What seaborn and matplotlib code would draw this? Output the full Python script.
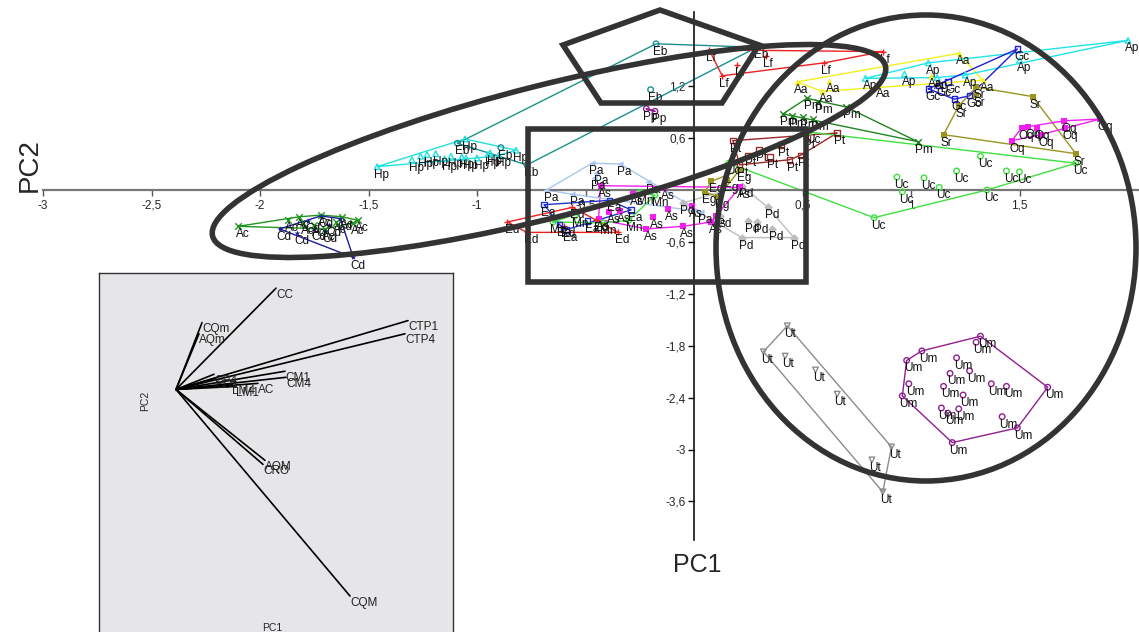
#!/usr/bin/env python3
import matplotlib
matplotlib.use("Agg")
import matplotlib.pyplot as plt
import numpy as np
import seaborn as sns
from matplotlib.patches import Ellipse, Polygon, Rectangle
from matplotlib.ticker import FixedLocator, FuncFormatter

sns.set_theme(style="white")
plt.rcParams["font.family"] = ["Liberation Sans", "DejaVu Sans"]

# PCA scores (PC1, PC2) per group
Ac_pc1 = [-2.10, -1.87, -1.82, -1.72, -1.55, -1.57, -1.75, -1.65, -1.80, -1.62, -1.70]
Ac_pc2 = [-0.42, -0.35, -0.31, -0.29, -0.35, -0.38, -0.40, -0.37, -0.38, -0.31, -0.45]
Cd_pc1 = [-1.91, -1.57, -1.72, -1.63, -1.83, -1.75, -1.68, -1.78, -1.70]
Cd_pc2 = [-0.45, -0.78, -0.30, -0.33, -0.50, -0.45, -0.40, -0.36, -0.47]
Hp_pc1 = [-1.46, -1.30, -1.26, -1.23, -1.19, -1.12, -1.07, -1.055, -0.95, -0.82, -1.00, -0.90, -1.15, -1.05, -0.94]
Hp_pc2 = [0.27, 0.35, 0.39, 0.41, 0.42, 0.39, 0.38, 0.59, 0.41, 0.46, 0.37, 0.40, 0.36, 0.37, 0.43]
Eb_pc1 = [-0.175, -0.20, 0.29, -1.09, -0.89, -0.77]
Eb_pc2 = [1.69, 1.16, 1.65, 0.54, 0.49, 0.29]
Lf_pc1 = [0.07, 0.87, 0.13, 0.60, 0.33, 0.20]
Lf_pc2 = [1.62, 1.60, 1.32, 1.47, 1.55, 1.45]
Aa_pc1 = [0.475, 0.62, 0.59, 1.22, 1.33, 1.09, 0.85]
Aa_pc2 = [1.25, 1.26, 1.14, 1.58, 1.27, 1.32, 1.20]
Ap_pc1 = [0.79, 0.97, 1.08, 1.12, 2.00, 1.50, 1.25]
Ap_pc2 = [1.29, 1.34, 1.47, 1.30, 1.73, 1.50, 1.33]
Gc_pc1 = [1.49, 1.08, 1.20, 1.27, 1.17, 1.13]
Gc_pc2 = [1.63, 1.17, 1.05, 1.09, 1.25, 1.21]
Sr_pc1 = [1.30, 1.56, 1.15, 1.76, 1.22, 1.30]
Sr_pc2 = [1.19, 1.08, 0.64, 0.42, 0.97, 1.10]
Oq_pc1 = [1.465, 1.51, 1.54, 1.58, 1.705, 1.87, 1.60, 1.71]
Oq_pc2 = [0.57, 0.72, 0.73, 0.72, 0.80, 0.82, 0.64, 0.72]
Pm_pc1 = [0.52, 0.70, 0.41, 0.50, 1.03, 0.57, 0.55, 0.45]
Pm_pc2 = [1.06, 0.96, 0.88, 0.84, 0.56, 1.02, 0.82, 0.86]
Pt_pc1 = [0.18, 0.66, 0.52, 0.44, 0.21, 0.30, 0.40, 0.49, 0.25, 0.35]
Pt_pc2 = [0.57, 0.66, 0.61, 0.35, 0.29, 0.46, 0.52, 0.40, 0.40, 0.38]
Uc_pc1 = [0.16, 0.53, 0.83, 0.935, 1.06, 1.13, 0.96, 1.21, 1.32, 1.44, 1.50, 1.35, 1.76]
Uc_pc2 = [0.31, 0.67, -0.32, 0.15, 0.14, 0.03, -0.02, 0.22, 0.39, 0.22, 0.21, 0.00, 0.31]
Ut_pc1 = [0.43, 0.32, 0.42, 0.56, 0.66, 0.91, 0.82, 0.87]
Ut_pc2 = [-1.57, -1.87, -1.92, -2.08, -2.36, -2.97, -3.12, -3.49]
Um_pc1 = [1.32, 1.30, 1.05, 0.98, 0.99, 0.96, 1.21, 1.18, 1.27, 1.15, 1.24,
          1.37, 1.44, 1.63, 1.14, 1.17, 1.22, 1.42, 1.49, 1.19]
Um_pc2 = [-1.69, -1.76, -1.86, -1.97, -2.24, -2.38, -1.94, -2.12, -2.09, -2.27, -2.37,
          -2.24, -2.27, -2.28, -2.52, -2.58, -2.53, -2.62, -2.75, -2.92]
Pd_pc1 = [0.34, 0.25, 0.29, 0.36, 0.46, 0.22, 0.22, 0.12, -0.05]
Pd_pc2 = [-0.20, -0.36, -0.37, -0.45, -0.55, -0.55, 0.05, -0.30, -0.15]
As_pc1 = [-0.28, -0.14, 0.21, -0.01, -0.12, -0.05, -0.22, 0.08, -0.44, -0.39, -0.34, -0.19, -0.43, 0.10]
As_pc2 = [-0.05, 0.02, 0.03, -0.18, -0.22, -0.42, -0.45, -0.37, -0.34, -0.25, -0.24, -0.31, 0.05, -0.30]
Pa_pc1 = [-0.47, -0.34, -0.21, -0.68, -0.56, -0.46, 0.03, -0.45]
Pa_pc2 = [0.31, 0.30, 0.09, 0.00, -0.05, 0.14, -0.25, 0.20]
Ed_pc1 = [-0.86, -0.56, -0.77, -0.35, -0.45, -0.60]
Ed_pc2 = [-0.37, -0.20, -0.49, -0.49, -0.35, -0.42]
Ea_pc1 = [-0.69, -0.49, -0.59, -0.39, -0.29, -0.62]
Ea_pc2 = [-0.17, -0.36, -0.46, -0.12, -0.23, -0.40]
Mn_pc1 = [-0.65, -0.55, -0.25, -0.18, -0.30, -0.42]
Mn_pc2 = [-0.37, -0.30, -0.03, -0.06, -0.35, -0.38]
Eg_pc1 = [0.08, 0.05, 0.11, 0.21, 0.15]
Eg_pc2 = [0.10, -0.02, -0.08, 0.23, 0.12]
Pp_pc1 = [-0.22, -0.18]
Pp_pc2 = [0.94, 0.91]

# loadings shown in the inset (arbitrary units)
load_names = ["CC", "CQm", "AQm", "CTP1", "CTP4", "CM1", "CM4", "AC", "CD1", "CP4",
              "LM4", "LM1", "AQM", "CRO", "CQM"]
load_pc1 = [1.00, 0.26, 0.23, 2.32, 2.29, 1.09, 1.10, 0.82, 0.39, 0.38, 0.56, 0.60, 0.89, 0.87, 1.74]
load_pc2 = [1.00, 0.66, 0.55, 0.68, 0.55, 0.18, 0.12, 0.06, 0.11, 0.15, 0.05, 0.03, -0.70, -0.74, -2.04]

# name, scores, colour, marker, filled
groups = [
    ("Ac", Ac_pc1, Ac_pc2, "#1f961f", "x", False),
    ("Cd", Cd_pc1, Cd_pc2, "#1c1c9a", "*", True),
    ("Hp", Hp_pc1, Hp_pc2, "#20e0e0", "^", False),
    ("Eb", Eb_pc1, Eb_pc2, "#1b8f8f", "o", False),
    ("Lf", Lf_pc1, Lf_pc2, "#ee1f1f", "+", False),
    ("Aa", Aa_pc1, Aa_pc2, "#f2f01e", "^", True),
    ("Ap", Ap_pc1, Ap_pc2, "#20e4ec", "^", False),
    ("Gc", Gc_pc1, Gc_pc2, "#1f1fd6", "s", False),
    ("Sr", Sr_pc1, Sr_pc2, "#9a9420", "s", True),
    ("Oq", Oq_pc1, Oq_pc2, "#f21ef2", "s", True),
    ("Pm", Pm_pc1, Pm_pc2, "#1f861f", "x", False),
    ("Pt", Pt_pc1, Pt_pc2, "#9b2a2a", "s", False),
    ("Uc", Uc_pc1, Uc_pc2, "#3fe03f", "o", False),
    ("Ut", Ut_pc1, Ut_pc2, "#8c8c8c", "v", False),
    ("Um", Um_pc1, Um_pc2, "#8f1f8f", "o", False),
    ("Pd", Pd_pc1, Pd_pc2, "#bdbdbd", "D", True),
    ("As", As_pc1, As_pc2, "#f21ef2", "s", True),
    ("Pa", Pa_pc1, Pa_pc2, "#a9c6ee", "<", True),
    ("Ed", Ed_pc1, Ed_pc2, "#ee1f1f", "+", False),
    ("Ea", Ea_pc1, Ea_pc2, "#2233cc", "s", False),
    ("Mn", Mn_pc1, Mn_pc2, "#3fe03f", "o", False),
    ("Eg", Eg_pc1, Eg_pc2, "#9a9420", "s", True),
    ("Pp", Pp_pc1, Pp_pc2, "#8f1f8f", "o", False),
]


def convex_hull(xs, ys):
    pts = sorted(set(zip(xs, ys)))
    if len(pts) < 3:
        return pts

    def cross(o, a, b):
        return (a[0] - o[0]) * (b[1] - o[1]) - (a[1] - o[1]) * (b[0] - o[0])

    lower, upper = [], []
    for p in pts:
        while len(lower) >= 2 and cross(lower[-2], lower[-1], p) <= 0:
            lower.pop()
        lower.append(p)
    for p in reversed(pts):
        while len(upper) >= 2 and cross(upper[-2], upper[-1], p) <= 0:
            upper.pop()
        upper.append(p)
    return lower[:-1] + upper[:-1]


W, H = 1139, 632
fig = plt.figure(figsize=(W / 100, H / 100), dpi=100)
fig.patch.set_facecolor("white")

# main score plot, axes crossing at the origin
ax = fig.add_axes([0, 0, 1, 1])
ax.set_facecolor("white")
x0, y0, sx, sy = 694, 190, 217.0, 86.5   # pixel of origin, pixels per unit
ax.set_xlim(-x0 / sx, (W - x0) / sx)
ax.set_ylim((y0 - H) / sy, y0 / sy)

for name, xs, ys, col, mk, filled in groups:
    hull = convex_hull(xs, ys)
    hx = [p[0] for p in hull] + [hull[0][0]]
    hy = [p[1] for p in hull] + [hull[0][1]]
    ax.plot(hx, hy, color=col, lw=1.0, zorder=2)
    if mk in ("x", "+"):
        sns.scatterplot(x=xs, y=ys, color=col, marker=mk, s=22, linewidth=1.0, ax=ax, zorder=3)
    elif filled:
        sns.scatterplot(x=xs, y=ys, color=col, marker=mk, s=20, linewidth=0, ax=ax, zorder=3)
    else:
        sns.scatterplot(x=xs, y=ys, marker=mk, s=16, facecolor="none", edgecolor=col,
                        linewidth=1.0, ax=ax, zorder=3)
    for px, py in zip(xs, ys):
        ax.annotate(name, (px, py), xytext=(-2, -1.5), textcoords="offset points",
                    ha="left", va="top", fontsize=8.5, color="#111111", zorder=4)

for side in ["top", "right"]:
    ax.spines[side].set_visible(False)
ax.spines["left"].set_position(("data", 0))
ax.spines["bottom"].set_position(("data", 0))
ax.spines["left"].set_bounds(-4.05, 2.06)
ax.spines["bottom"].set_bounds(-3.0, (W - x0) / sx)
ax.spines["left"].set_color("#111111")
ax.spines["left"].set_linewidth(1.2)
ax.spines["bottom"].set_color("#777777")
ax.spines["bottom"].set_linewidth(1.6)

xt = [-3, -2.5, -2, -1.5, -1, -0.5, 0.5, 1, 1.5]
yt = [1.2, 0.6, -0.6, -1.2, -1.8, -2.4, -3, -3.6]
comma = FuncFormatter(lambda v, p: "{:g}".format(round(v, 2)).replace(".", ","))
ax.xaxis.set_major_locator(FixedLocator(xt))
ax.yaxis.set_major_locator(FixedLocator(yt))
ax.xaxis.set_major_formatter(comma)
ax.yaxis.set_major_formatter(comma)
ax.tick_params(axis="x", direction="out", length=4, width=1, color="#555555",
               labelsize=8.5, pad=3, bottom=True)
ax.tick_params(axis="y", direction="out", length=4, width=1, color="#111111",
               labelsize=8.5, pad=2, left=True)
ax.grid(False)

fig.text(30 / W, 1 - 165 / H, "PC2", rotation=90, ha="center", va="center", fontsize=20)
fig.text(697 / W, 1 - 565 / H, "PC1", ha="center", va="center", fontsize=18)

# inset with the loading vectors
ins = fig.add_axes([99 / W, -0.02, (453 - 99) / W, 1 - 273 / H + 0.02])
ins.set_facecolor("#e6e6e9")
ins.set_xlim(-0.77, 2.77)
ins.set_ylim(-2.52, 1.15)
ins.set_xticks([])
ins.set_yticks([])
for sp in ins.spines.values():
    sp.set_color("#333333")
    sp.set_linewidth(1.0)
for nm, lx, ly in zip(load_names, load_pc1, load_pc2):
    ins.plot([0, lx], [0, ly], color="black", lw=1.2)
    ins.annotate(nm, (lx, ly), xytext=(0, -0.5), textcoords="offset points",
                 ha="left", va="top", fontsize=8.5, color="#222222")
ins.text(0.13, 0.655, "PC2", rotation=90, transform=ins.transAxes,
         ha="center", va="center", fontsize=7.5)
ins.text(0.49, 0.045, "PC1", transform=ins.transAxes, ha="center", va="center", fontsize=7.5)

# hand-drawn highlight shapes, in pixel coordinates
ov = fig.add_axes([0, 0, 1, 1])
ov.set_xlim(0, W)
ov.set_ylim(H, 0)
ov.axis("off")
ov.patch.set_alpha(0)
shape_col = "#333333"
ov.add_patch(Polygon([(563, 45), (660, 10), (759, 45), (722, 103), (601, 103)],
                     closed=True, fill=False, ec=shape_col, lw=4))
ov.add_patch(Ellipse((549, 151), 694, 132, angle=-14.2, fill=False, ec=shape_col, lw=4))
ov.add_patch(Rectangle((528, 129), 278, 153, fill=False, ec=shape_col, lw=4))
ov.add_patch(Ellipse((926, 248), 420, 466, angle=0, fill=False, ec=shape_col, lw=4))

fig.savefig("out.png", dpi=100)
